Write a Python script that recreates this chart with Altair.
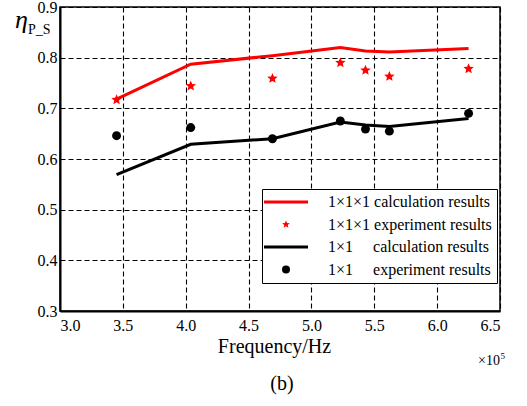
import altair as alt
import pandas as pd

# ---- data (frequency in units of 1e5 Hz) ----
freq = [3.45, 4.04, 4.69, 5.23, 5.43, 5.62, 6.25]
red_calc = [0.718, 0.787, 0.804, 0.820, 0.813, 0.811, 0.818]
red_exp = [0.717, 0.744, 0.759, 0.790, 0.775, 0.763, 0.778]
black_calc = [0.569, 0.629, 0.640, 0.673, 0.667, 0.664, 0.680]
black_exp = [0.646, 0.662, 0.640, 0.675, 0.659, 0.655, 0.690]

NB = "\u00a0"
labels = [
    "1×1×1 calculation results",
    "1×1×1 experiment results",
    "1×1" + NB * 4 + " calculation results",
    "1×1" + NB * 4 + " experiment results",
]
x_ticks = [3.0, 3.5, 4.0, 4.5, 5.0, 5.5, 6.0, 6.5]
y_ticks = [0.3, 0.4, 0.5, 0.6, 0.7, 0.8, 0.9]

calc_rows = []
for f, v in zip(freq, red_calc):
    calc_rows.append({"f": f, "eta": v, "series": labels[0]})
for f, v in zip(freq, black_calc):
    calc_rows.append({"f": f, "eta": v, "series": labels[2]})
exp_rows = []
for f, v in zip(freq, red_exp):
    exp_rows.append({"f": f, "eta": v, "series": labels[1]})
for f, v in zip(freq, black_exp):
    exp_rows.append({"f": f, "eta": v, "series": labels[3]})
calc_df = pd.DataFrame(calc_rows)
exp_df = pd.DataFrame(exp_rows)

SERIF = "Times New Roman, Liberation Serif, serif"
STAR = ("M0,-1L0.2645,-0.3641L0.9511,-0.309L0.4280,0.1391L0.5878,0.809L0,0.45"
        "L-0.5878,0.809L-0.4280,0.1391L-0.9511,-0.309L-0.2645,-0.3641Z")
BAR = "M-5.5,-0.35L5.5,-0.35L5.5,0.35L-5.5,0.35Z"

color_scale = alt.Scale(domain=labels, range=["#ff0000", "#ff0000", "#000000", "#000000"])
shape_scale = alt.Scale(domain=labels, range=[BAR, STAR, BAR, "circle"])
size_scale = alt.Scale(domain=[labels[1], labels[3]], range=[120, 80])
line_scale = alt.Scale(domain=[labels[0], labels[2]], range=["#ff0000", "#000000"])

x_enc = alt.X(
    "f:Q",
    scale=alt.Scale(domain=[3.0, 6.5], nice=False, zero=False),
    axis=alt.Axis(
        values=x_ticks, format=".1f", title="Frequency/Hz",
        titleX=214, titleY=41, titleBaseline="alphabetic",
        titleAlign="center", labelPadding=6,
    ),
)
y_enc = alt.Y(
    "eta:Q",
    scale=alt.Scale(domain=[0.3, 0.9], nice=False, zero=False),
    axis=alt.Axis(values=y_ticks, format=".1f", title=None, labelPadding=3),
)

leg = alt.Legend(
    title=None, orient="none", legendX=202, legendY=182,
    labelFont=SERIF, labelFontSize=16, labelColor="black", labelLimit=400,
    symbolSize=64, symbolOffset=11, labelOffset=34, padding=5, rowPadding=6.5,
    strokeColor="black", fillColor="white", symbolOpacity=1, symbolStrokeWidth=0,
    cornerRadius=0,
)

lines = alt.Chart(calc_df).mark_line(strokeWidth=3).encode(
    x=x_enc, y=y_enc,
    stroke=alt.Stroke("series:N", scale=line_scale, legend=None),
    detail="series:N",
)
points = alt.Chart(exp_df).mark_point(filled=True, opacity=1, strokeWidth=0).encode(
    x=x_enc, y=y_enc,
    color=alt.Color("series:N", scale=color_scale, legend=leg),
    shape=alt.Shape("series:N", scale=shape_scale, legend=leg),
    size=alt.Size("series:N", scale=size_scale, legend=None),
)

def txt(t, x, y, size, align="left", style="normal"):
    return alt.Chart(pd.DataFrame({"t": [t]})).mark_text(
        font=SERIF, fontSize=size, align=align, baseline="alphabetic",
        fontStyle=style, color="black",
    ).encode(text="t:N", x=alt.value(x), y=alt.value(y))

ann = [
    txt("η", -45, 21, 26, style="italic"),
    txt("P_S", -32, 27, 14),
    txt("×10", 440, 358, 14, align="right"),
    txt("5", 440.5, 352, 9),
    txt("(b)", 222, 383, 20, align="center"),
]

chart = alt.layer(lines, points, *ann).properties(
    width=440, height=304,
    autosize=alt.AutoSizeParams(type="none"),
    padding={"left": 60, "top": 7, "right": 27, "bottom": 95},
    background="white",
).configure_view(
    stroke="black", strokeWidth=1.5,
).configure_axis(
    labelFont=SERIF, labelFontSize=16, labelColor="black",
    titleFont=SERIF, titleFontSize=20, titleColor="black", titleFontWeight="normal",
    domainColor="black", domainWidth=2,
    grid=True, gridColor="black", gridDash=[5, 3], gridWidth=1.1, gridOpacity=1,
    ticks=False,
)

chart.save("out.html", embed_options={"renderer": "svg", "actions": False})
